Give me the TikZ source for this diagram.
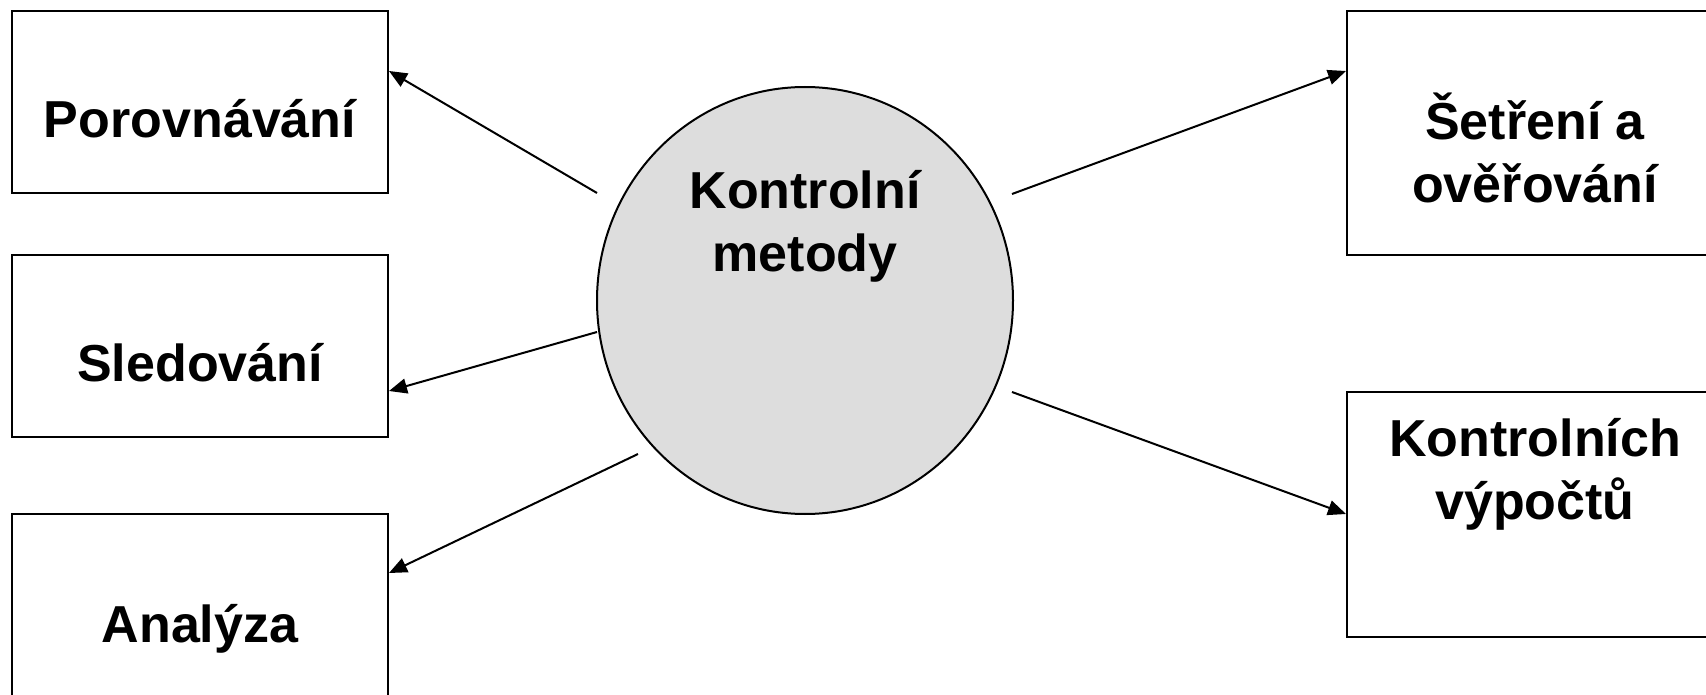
\documentclass[tikz,border=0pt]{standalone}
\usepackage{fontspec}
\setmainfont{Liberation Sans}
\usepackage{xcolor}
\usepackage{tikz}
\usetikzlibrary{arrows.meta,shapes.geometric}
\definecolor{kruhgray}{HTML}{DDDDDD}

\begin{document}
\begin{tikzpicture}[x=1pt,y=-1pt,
    box/.style={draw,line width=2pt,minimum width=376pt,inner sep=0pt},
    lbl/.style={font=\fontsize{52}{63}\selectfont\bfseries,align=center,anchor=base,inner sep=0pt},
    arr/.style={-{Triangle[length=18pt,width=15pt]},line width=2pt}]
    \useasboundingbox (0,0) rectangle (1706,695);

    % Central circle
    \node[ellipse,draw,line width=2pt,fill=kruhgray,minimum width=416pt,minimum height=427pt,inner sep=0pt] (kontr) at (805,300.5) {};
    \node[lbl] (kontr-t) at (805,272) {Kontrolní\\metody};

    % Left boxes
    \node[box,minimum height=182pt] (por) at (200,102) {};
    \node[lbl] (por-t) at (200,138) {Porovnávání};
    \node[box,minimum height=182pt] (sled) at (200,346) {};
    \node[lbl] (sled-t) at (200,381) {Sledování};
    \node[box,minimum height=226pt] (anal) at (200,627) {};
    \node[lbl] (anal-t) at (200,642) {Analýza};

    % Right boxes
    \node[box,minimum height=244pt] (setr) at (1535,133) {};
    \node[lbl] (setr-t) at (1535,203) {Šetření a\\ověřování};
    \node[box,minimum height=245pt] (vyp) at (1535,514.5) {};
    \node[lbl] (vyp-t) at (1535,519) {Kontrolních\\výpočtů};

    % Arrow starts
    \coordinate (s1) at (597,193);
    \coordinate (s2) at (597,332);
    \coordinate (s3) at (638,454);
    \coordinate (s4) at (1012,194);
    \coordinate (s5) at (1012,392);

    % Arrows
    \draw[arr] (s1) -- ([yshift=-61pt]por.north east);
    \draw[arr] (s2) -- ([yshift=-137pt]sled.north east);
    \draw[arr] (s3) -- ([yshift=-60pt]anal.north east);
    \draw[arr] (s4) -- ([yshift=-61pt]setr.north west);
    \draw[arr] (s5) -- ([yshift=-123pt]vyp.north west);
\end{tikzpicture}
\end{document}
